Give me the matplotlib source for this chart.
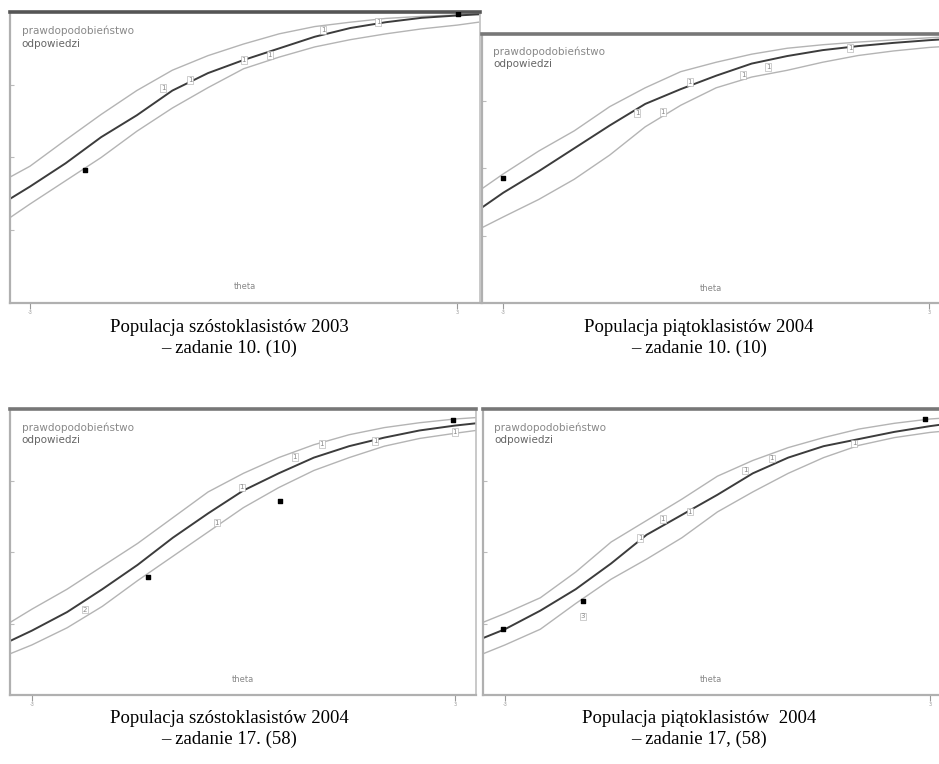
import matplotlib
matplotlib.use("Agg")
import matplotlib.pyplot as plt

# wspolna siatka theta
theta = [-3.3, -3, -2.5, -2, -1.5, -1, -0.5, 0, 0.5, 1, 1.5, 2, 2.5, 3, 3.3]

# panel 1: szostoklasisci 2003, zadanie 10
p1_mid = [0.355, 0.40, 0.48, 0.57, 0.645, 0.73, 0.79, 0.835, 0.875, 0.915, 0.945, 0.965, 0.98, 0.988, 0.992]
p1_up = [0.43, 0.47, 0.56, 0.648, 0.73, 0.80, 0.85, 0.89, 0.925, 0.95, 0.965, 0.978, 0.985, 0.99, 0.993]
p1_lo = [0.29, 0.34, 0.42, 0.50, 0.59, 0.67, 0.74, 0.805, 0.845, 0.88, 0.905, 0.925, 0.942, 0.955, 0.965]
p1_obs_x = [-2.23, 3.01]
p1_obs_y = [0.457, 0.993]
p1_lab_x = [-1.13, -0.75, 0.0, 0.37, 1.12, 1.89]
p1_lab_y = [0.739, 0.766, 0.835, 0.852, 0.938, 0.966]
p1_lab = ["1", "1", "1", "1", "1", "1"]

# panel 2: piatoklasisci 2004, zadanie 10
p2_mid = [0.355, 0.41, 0.49, 0.575, 0.66, 0.74, 0.795, 0.845, 0.89, 0.918, 0.94, 0.955, 0.967, 0.977, 0.982]
p2_up = [0.425, 0.48, 0.565, 0.64, 0.73, 0.80, 0.86, 0.895, 0.925, 0.947, 0.96, 0.97, 0.978, 0.986, 0.99]
p2_lo = [0.28, 0.32, 0.385, 0.46, 0.55, 0.655, 0.735, 0.80, 0.84, 0.865, 0.895, 0.92, 0.937, 0.95, 0.955]
p2_obs_x = [-3.0]
p2_obs_y = [0.465]
p2_lab_x = [-1.11, -0.75, -0.37, 0.38, 0.73, 1.89]
p2_lab_y = [0.706, 0.71, 0.822, 0.848, 0.877, 0.948]
p2_lab = ["1", "1", "1", "1", "1", "1"]

# panel 3: szostoklasisci 2004, zadanie 17
p3_mid = [0.19, 0.225, 0.29, 0.37, 0.455, 0.55, 0.635, 0.715, 0.775, 0.83, 0.87, 0.9, 0.925, 0.942, 0.95]
p3_up = [0.255, 0.30, 0.37, 0.45, 0.53, 0.62, 0.71, 0.775, 0.83, 0.875, 0.91, 0.935, 0.952, 0.965, 0.97]
p3_lo = [0.145, 0.175, 0.235, 0.31, 0.40, 0.485, 0.57, 0.655, 0.725, 0.785, 0.83, 0.87, 0.897, 0.915, 0.925]
p3_obs_x = [-1.35, 0.52, 2.97]
p3_obs_y = [0.413, 0.677, 0.961]
p3_lab_x = [-2.25, -0.38, -0.02, 0.73, 1.11, 1.87, 3.0]
p3_lab_y = [0.298, 0.603, 0.726, 0.832, 0.877, 0.888, 0.919]
p3_lab = ["2", "1", "1", "1", "1", "1", "1"]

# panel 4: piatoklasisci 2004, zadanie 17
p4_mid = [0.20, 0.23, 0.295, 0.37, 0.46, 0.56, 0.63, 0.70, 0.775, 0.83, 0.87, 0.895, 0.92, 0.94, 0.95]
p4_up = [0.255, 0.285, 0.34, 0.43, 0.535, 0.61, 0.685, 0.765, 0.82, 0.865, 0.90, 0.93, 0.95, 0.965, 0.97]
p4_lo = [0.145, 0.175, 0.23, 0.32, 0.405, 0.475, 0.55, 0.64, 0.71, 0.775, 0.83, 0.873, 0.90, 0.918, 0.925]
p4_obs_x = [-3.03, -1.9, 2.93]
p4_obs_y = [0.232, 0.327, 0.965]
p4_lab_x = [-1.9, -1.09, -0.77, -0.39, 0.39, 0.77, 1.93]
p4_lab_y = [0.275, 0.549, 0.616, 0.641, 0.785, 0.827, 0.88]
p4_lab = ["3", "1", "1", "1", "1", "1", "1"]

titles = [
    "Populacja szóstoklasistów 2003\n– zadanie 10. (10)",
    "Populacja piątoklasistów 2004\n– zadanie 10. (10)",
    "Populacja szóstoklasistów 2004\n– zadanie 17. (58)",
    "Populacja piątoklasistów  2004\n– zadanie 17, (58)",
]
x_ticks = [-3, 3]
x_tick_labels = ["-3", "3"]
y_ticks = [0.25, 0.5, 0.75]

W, H = 939, 764
fig = plt.figure(figsize=(W / 100, H / 100), dpi=100)


def px_rect(l, t, r, b):
    return [l / W, 1 - b / H, (r - l) / W, (b - t) / H]


panels = [
    # rect w pikselach, xlim, srodek tytulu (px), y tytulu (px), czy prawa os
    (px_rect(10, 12, 480, 303), (-3.28, 3.32), 229, 338, True,
     p1_mid, p1_up, p1_lo, p1_obs_x, p1_obs_y, p1_lab_x, p1_lab_y, p1_lab),
    (px_rect(482, 34, 939, 303), (-3.30, 3.14), 699, 338, False,
     p2_mid, p2_up, p2_lo, p2_obs_x, p2_obs_y, p2_lab_x, p2_lab_y, p2_lab),
    (px_rect(10, 409, 476, 695), (-3.31, 3.30), 229, 729, True,
     p3_mid, p3_up, p3_lo, p3_obs_x, p3_obs_y, p3_lab_x, p3_lab_y, p3_lab),
    (px_rect(483, 409, 939, 695), (-3.31, 3.13), 699, 729, False,
     p4_mid, p4_up, p4_lo, p4_obs_x, p4_obs_y, p4_lab_x, p4_lab_y, p4_lab),
]

for i, (rect, xlim, tx, ty, right, mid, up, lo, ox, oy, lx, ly, lab) in enumerate(panels):
    ax = fig.add_axes(rect)
    ax.plot(theta, up, color="#b4b4b4", lw=1.0)
    ax.plot(theta, lo, color="#b4b4b4", lw=1.0)
    ax.plot(theta, mid, color="#3c3c3c", lw=1.4)
    ax.scatter(ox, oy, marker="s", s=12, color="black", zorder=5)
    for x, y, t in zip(lx, ly, lab):
        ax.text(x, y, t, fontsize=5, color="#888888", ha="center", va="center",
                bbox=dict(boxstyle="square,pad=0.1", fc="white", ec="#aaaaaa", lw=0.4))

    ax.set_xlim(*xlim)
    ax.set_ylim(0, 1)
    ax.set_xticks(x_ticks)
    ax.set_xticklabels(x_tick_labels)
    ax.set_yticks(y_ticks)
    ax.set_yticklabels([])
    ax.tick_params(axis="x", direction="out", length=4, width=0.8, color="#999999",
                   labelsize=3.5, labelcolor="#999999", pad=1)
    ax.tick_params(axis="y", direction="in", length=3, width=0.8, color="#bbbbbb")

    for side in ("left", "bottom"):
        ax.spines[side].set_color("#b0b0b0")
        ax.spines[side].set_linewidth(1.6)
    ax.spines["top"].set_color("#555555" if i == 0 else "#777777")
    ax.spines["top"].set_linewidth(2.6)
    ax.spines["right"].set_visible(right)
    ax.spines["right"].set_color("#c0c0c0")
    ax.spines["right"].set_linewidth(1.2)

    ax.text(0.025, 0.935, "prawdopodobieństwo", transform=ax.transAxes,
            fontsize=7.5, color="#888888", va="center")
    ax.text(0.025, 0.89, "odpowiedzi", transform=ax.transAxes,
            fontsize=7.5, color="#666666", va="center")
    ax.text(0.5, 0.055, "theta", transform=ax.transAxes,
            fontsize=6, color="#888888", ha="center", va="center")

    fig.text(tx / W, 1 - ty / H, titles[i], ha="center", va="center",
             fontsize=13.5, family="Liberation Serif", linespacing=1.3)

fig.savefig("out.png", dpi=100, facecolor="white")
